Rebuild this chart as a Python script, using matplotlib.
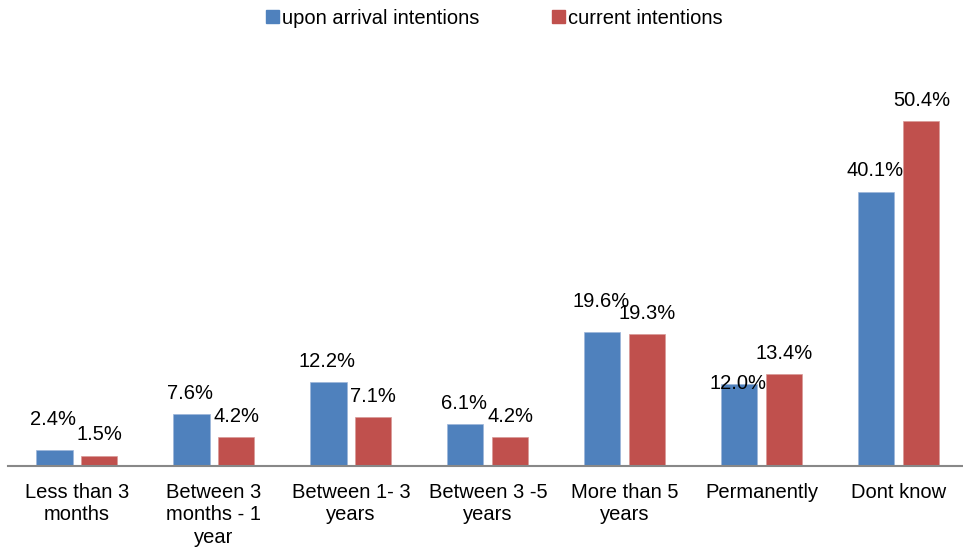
import matplotlib.pyplot as plt
from matplotlib.patches import Patch
import numpy as np

plt.rcParams['font.family'] = ['Liberation Sans', 'DejaVu Sans']

categories = ['Less than 3\nmonths', 'Between 3\nmonths - 1\nyear', 'Between 1- 3\nyears',
              'Between 3 -5\nyears', 'More than 5\nyears', 'Permanently', 'Dont know']
arrival = [2.4, 7.6, 12.2, 6.1, 19.6, 12.0, 40.1]
current = [1.5, 4.2, 7.1, 4.2, 19.3, 13.4, 50.4]
series_names = ['upon arrival intentions', 'current intentions']

BLUE = '#4F81BD'
RED = '#C0504D'
FS = 14.5

fig = plt.figure(figsize=(9.63, 5.52), dpi=100)
ax = fig.add_axes([0.0088, 0.1558, 0.9958, 0.744])

x = np.arange(len(categories))
w = 0.263
off = 0.164
b1 = ax.bar(x - off, arrival, w, color=BLUE, edgecolor='#9DB5DA', linewidth=0.5)
b2 = ax.bar(x + off, current, w, color=RED, edgecolor='#D99A98', linewidth=0.5)

# label offsets in points (Excel nudged a couple of them)
nudge_blue = {0: 22, 4: 22, 5: 0}
for i, (r, v) in enumerate(zip(b1, arrival)):
    dy = nudge_blue.get(i, 15)
    ax.annotate('{:.1f}%'.format(v), (r.get_x() + r.get_width() / 2, v),
                xytext=(-1, dy), textcoords='offset points',
                ha='center', va='center', fontsize=FS)
for i, (r, v) in enumerate(zip(b2, current)):
    ax.annotate('{:.1f}%'.format(v), (r.get_x() + r.get_width() / 2, v),
                xytext=(0, 15), textcoords='offset points',
                ha='center', va='center', fontsize=FS)

ax.set_xlim(-0.5, 6.5)
ax.set_ylim(0, 60)
ax.set_xticks(x)
ax.set_xticklabels(categories, fontsize=FS, linespacing=1.25)
ax.tick_params(axis='x', length=0, pad=12)
ax.set_yticks([])
for s in ['top', 'right', 'left']:
    ax.spines[s].set_visible(False)
ax.spines['bottom'].set_color('#888888')
ax.spines['bottom'].set_linewidth(1.5)

handles = [Patch(color=BLUE), Patch(color=RED)]
fig.legend(handles, series_names, loc='center', bbox_to_anchor=(0.513, 0.967),
           ncol=2, frameon=False, fontsize=FS, handlelength=0.65, handleheight=0.65,
           handletextpad=0.15, columnspacing=3.6)

fig.savefig('out.png', dpi=100)
